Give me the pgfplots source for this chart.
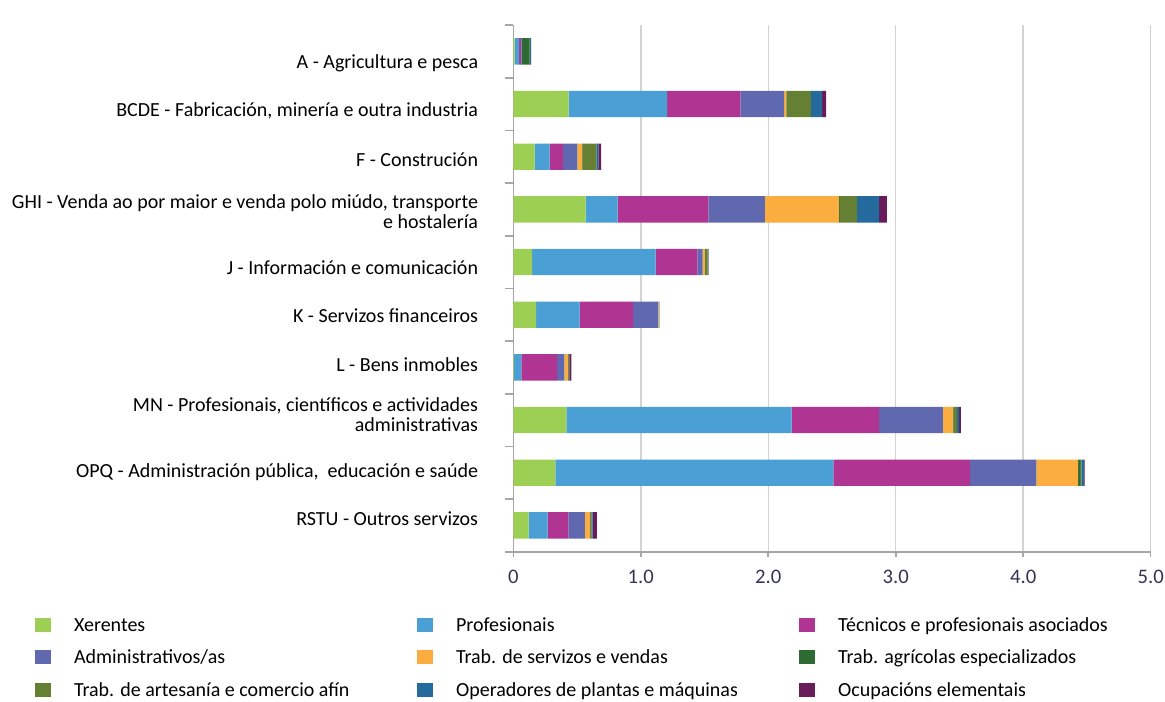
\documentclass[border=0pt]{standalone}
\usepackage{fontspec}
\setmainfont{Carlito}
\usepackage{pgfplots}
\usepackage{pgfplotstable}
\pgfplotsset{compat=1.18}
\definecolor{cX}{HTML}{9ECF55}
\definecolor{cP}{HTML}{4A9FD5}
\definecolor{cT}{HTML}{B03593}
\definecolor{cA}{HTML}{6068B0}
\definecolor{cS}{HTML}{FBAE3F}
\definecolor{cAg}{HTML}{2D6B35}
\definecolor{cAr}{HTML}{658033}
\definecolor{cOp}{HTML}{256A9C}
\definecolor{cEl}{HTML}{6A1B5A}
\definecolor{gridgray}{HTML}{D3D3D3}
\definecolor{axisgray}{HTML}{A6A6A6}
\definecolor{ticktext}{HTML}{333355}
\pgfplotstableread{
y X P T A S Ag Ar Op El
0 0.010 0.035 0.015 0.005 0.000 0.063 0.002 0.008 0.002
1 0.434 0.772 0.576 0.343 0.018 0.005 0.186 0.089 0.031
2 0.168 0.117 0.105 0.112 0.037 0.005 0.107 0.016 0.021
3 0.568 0.251 0.712 0.442 0.583 0.005 0.134 0.175 0.060
4 0.147 0.970 0.327 0.042 0.016 0.000 0.023 0.005 0.003
5 0.178 0.343 0.418 0.197 0.003 0.000 0.005 0.002 0.000
6 0.005 0.058 0.280 0.057 0.029 0.000 0.008 0.003 0.015
7 0.416 1.768 0.686 0.500 0.078 0.005 0.029 0.016 0.013
8 0.330 2.181 1.073 0.520 0.327 0.015 0.010 0.020 0.005
9 0.120 0.150 0.162 0.130 0.040 0.000 0.010 0.010 0.033
}\data
\pgfplotsset{legsq/.style={legend image code/.code={\fill[##1] (0pt,-0.5pt) rectangle (12pt,10pt);}}}
\newcommand\legtxt[1]{\makebox[257.25pt][l]{\rule[-7.325pt]{0pt}{24.15pt}#1}}
\begin{document}
\begin{tikzpicture}
\useasboundingbox (0,0) rectangle (873.75pt,526.5pt);
\begin{axis}[
  at={(385pt,112.7pt)}, anchor=south west,
  scale only axis, width=478pt, height=395pt,
  xbar stacked, bar width=0.5,
  xmin=0, xmax=5, ymin=-0.5, ymax=9.5, y dir=reverse,
  axis x line*=bottom, axis y line*=left,
  axis line style={draw=axisgray, line width=1.2pt},
  tick align=outside,
  major tick length=3.75pt, minor tick length=6pt,
  every major y tick/.append style={draw=none},
  every minor y tick/.append style={draw=axisgray, line width=1.2pt},
  every major x tick/.append style={draw=axisgray, line width=1.2pt},
  xmajorgrids, grid style={draw=gridgray, line width=1.1pt},
  ytick={0.22,1.13,2.06,3.05,4.11,5.02,5.94,6.89,7.99,8.88},
  minor ytick={-0.5,0.5,...,9.5},
  yticklabels={
    {A - Agricultura e pesca},
    {BCDE - Fabricación, minería e outra industria},
    {F - Construción},
    {GHI - Venda ao por maior e venda polo miúdo, transporte\\ e hostalería},
    {J - Información e comunicación},
    {K - Servizos financeiros},
    {L - Bens inmobles},
    {MN - Profesionais, científicos e actividades\\ administrativas},
    {OPQ - Administración pública,\ \ educación e saúde},
    {RSTU - Outros servizos}},
  yticklabel style={align=right, inner sep=0pt, xshift=-22.5pt, font=\fontsize{15}{15}\selectfont},
  xtick={0,1,2,3,4,5},
  xticklabels={0,1.0,2.0,3.0,4.0,5.0},
  xticklabel style={inner sep=0pt, yshift=-10pt, text=ticktext, font=\fontsize{15.5}{15}\selectfont},
  /pgf/number format/assume math mode=true,
  legend columns=3,
  legend style={at={(-0.7504,-0.108)}, anchor=north west, draw=none, fill=none,
    inner sep=0pt, outer sep=0pt, row sep=6.15pt,
    font=\fontsize{15}{15}\selectfont,
    nodes={inner sep=0pt, anchor=base west},
    /tikz/every odd column/.append style={column sep=17.25pt},
    /tikz/every even column/.append style={column sep=0pt}},
]
\addplot[fill=cX, draw=none, legsq] table[x=X,y=y]{\data};
\addlegendentry{\legtxt{Xerentes}}
\addplot[fill=cP, draw=none, legsq] table[x=P,y=y]{\data};
\addlegendentry{\legtxt{Profesionais}}
\addplot[fill=cT, draw=none, legsq] table[x=T,y=y]{\data};
\addlegendentry{\legtxt{Técnicos e profesionais asociados}}
\addplot[fill=cA, draw=none, legsq] table[x=A,y=y]{\data};
\addlegendentry{\legtxt{Administrativos/as}}
\addplot[fill=cS, draw=none, legsq] table[x=S,y=y]{\data};
\addlegendentry{\legtxt{Trab. de servizos e vendas}}
\addplot[fill=cAg, draw=none, legsq] table[x=Ag,y=y]{\data};
\addlegendentry{\legtxt{Trab. agrícolas especializados}}
\addplot[fill=cAr, draw=none, legsq] table[x=Ar,y=y]{\data};
\addlegendentry{\legtxt{Trab. de artesanía e comercio afín}}
\addplot[fill=cOp, draw=none, legsq] table[x=Op,y=y]{\data};
\addlegendentry{\legtxt{Operadores de plantas e máquinas}}
\addplot[fill=cEl, draw=none, legsq] table[x=El,y=y]{\data};
\addlegendentry{\legtxt{Ocupacións elementais}}
\end{axis}
\end{tikzpicture}
\end{document}
